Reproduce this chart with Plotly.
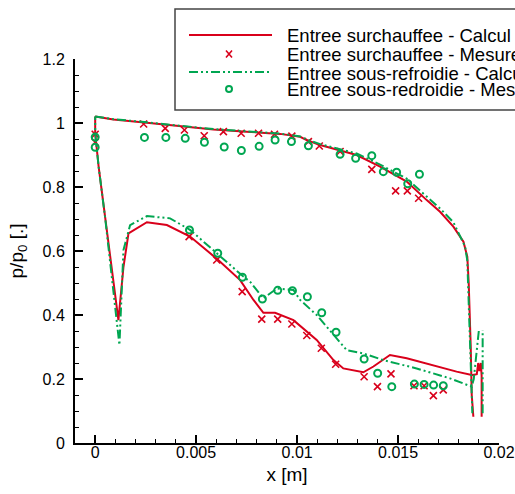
import plotly.graph_objects as go

# ---- data ----
calc_sur_x = [0, 0.0009, 0.00256, 0.0042, 0.00586, 0.0075, 0.00916, 0.01015, 0.0105, 0.01114,
              0.01295, 0.01411, 0.01543, 0.01642, 0.01708, 0.01774, 0.01824, 0.01843, 0.0185,
              0.0186, 0.01865, 0.01873, None,
              0.01914, 0.01914, 0.0191, 0.01903, 0.01897, 0.0189, 0.0187, 0.01865, 0.0179,
              0.01691, 0.01543, 0.0146, 0.01411, 0.01378, 0.01328, 0.01229, 0.0118, 0.01097,
              0.00982, 0.00891, 0.00833, 0.00784, 0.00718, 0.006, 0.0047, 0.00355, 0.00256,
              0.00165, 0.0014, 0.00115, 0.0005, 0.00017, 0, 0]
calc_sur_y = [1.02, 1.011, 1.001, 0.991, 0.980, 0.973, 0.966, 0.957, 0.946, 0.931,
              0.90, 0.864, 0.817, 0.759, 0.7225, 0.676, 0.629, 0.582, 0.50,
              0.30, 0.15, 0.082, None,
              0.082, 0.209, 0.25, 0.225, 0.25, 0.215, 0.2125, 0.2125, 0.223,
              0.239, 0.265, 0.275, 0.254, 0.239, 0.221, 0.233, 0.259, 0.322,
              0.384, 0.407, 0.407, 0.447, 0.509, 0.577, 0.645, 0.681, 0.69,
              0.655, 0.55, 0.384, 0.702, 0.864, 0.968, 1.02]

mes_sur_x = [0, 0, 0.0024, 0.00347, 0.00442, 0.0054, 0.00635, 0.00723, 0.00809, 0.00888,
             0.00974, 0.01056, 0.0111, 0.01213, 0.0137, 0.01488, 0.01546, 0.01602,
             0.00465, 0.00602, 0.00728, 0.00825, 0.00904, 0.00974, 0.01048, 0.0112, 0.01191,
             0.01332, 0.01398, 0.01465, 0.01579, 0.01629, 0.01675, 0.01724]
mes_sur_y = [0.965, 0.94, 0.997, 0.983, 0.978, 0.960, 0.973, 0.968, 0.968, 0.965,
             0.959, 0.942, 0.928, 0.911, 0.855, 0.788, 0.788, 0.765,
             0.645, 0.572, 0.473, 0.387, 0.387, 0.372, 0.336, 0.296, 0.246,
             0.207, 0.176, 0.216, 0.179, 0.179, 0.148, 0.166]

calc_sous_x = [0, 0.0009, 0.00256, 0.0042, 0.00586, 0.0075, 0.00916, 0.01015, 0.0105, 0.01114,
               0.01295, 0.01411, 0.01543, 0.01642, 0.01708, 0.01774, 0.01832, 0.01843, 0.0185,
               0.0186, 0.01868, None,
               0.01919, 0.01919, None,
               0.019, 0.0189, 0.01875, 0.01865, 0.01757, 0.01592, 0.01427, 0.01328, 0.01246,
               0.01097, 0.01015, 0.00982, 0.009, 0.00833, 0.00767, 0.00734, 0.006, 0.0047,
               0.00371, 0.00256, 0.00173, 0.0014, 0.0012, 0.0005, 0.00017, 0, 0]
calc_sous_y = [1.02, 1.012, 1.002, 0.992, 0.981, 0.974, 0.967, 0.958, 0.948, 0.934,
               0.905, 0.87, 0.826, 0.77, 0.733, 0.69, 0.614, 0.57, 0.45,
               0.25, 0.093, None,
               0.093, 0.353, None,
               0.35, 0.28, 0.2, 0.176, 0.202, 0.233, 0.259, 0.28, 0.29,
               0.40, 0.447, 0.478, 0.483, 0.452, 0.504, 0.52, 0.593, 0.666,
               0.702, 0.709, 0.681, 0.603, 0.306, 0.70, 0.864, 0.968, 1.02]

mes_sous_x = [0, 0, 0.00244, 0.0035, 0.00446, 0.00541, 0.00639, 0.00724, 0.00812, 0.00891,
              0.00972, 0.01056, 0.01213, 0.0129, 0.0137, 0.01427, 0.01493, 0.01548, 0.01606,
              0.00467, 0.00607, 0.00729, 0.00828, 0.00904, 0.00977, 0.01051, 0.01122, 0.01193,
              0.01332, 0.01399, 0.01469, 0.01581, 0.01629, 0.01676, 0.01724]
mes_sous_y = [0.956, 0.924, 0.955, 0.955, 0.952, 0.94, 0.925, 0.914, 0.927, 0.947,
              0.942, 0.929, 0.902, 0.89, 0.898, 0.848, 0.846, 0.81, 0.84,
              0.666, 0.593, 0.518, 0.45, 0.477, 0.476, 0.457, 0.407, 0.346,
              0.2625, 0.218, 0.176, 0.184, 0.183, 0.181, 0.179]

names = ["Entree surchauffee - Calcul", "Entree surchauffee - Mesure",
         "Entree sous-refroidie - Calcul", "Entree sous-redroidie - Mesure"]

x_ticks = [0, 0.005, 0.01, 0.015, 0.02]
x_ticktext = ["0", "0.005", "0.01", "0.015", "0.02"]
y_ticks = [0, 0.2, 0.4, 0.6, 0.8, 1.0, 1.2]
y_ticktext = ["0", "0.2", "0.4", "0.6", "0.8", "1", "1.2"]

RED = "#d9001b"
GREEN = "#00a651"
FONT = "Liberation Sans, Arial, sans-serif"
GREEN_DASH = "9px,3px,2px,3px,2px,3px"

fig = go.Figure()
fig.add_trace(go.Scatter(x=calc_sur_x, y=calc_sur_y, mode="lines", name=names[0],
                         line=dict(color=RED, width=2), connectgaps=False, showlegend=False))
fig.add_trace(go.Scatter(x=mes_sur_x, y=mes_sur_y, mode="markers", name=names[1],
                         marker=dict(symbol="x-thin-open", size=7, color=RED,
                                     line=dict(color=RED, width=1.6)), showlegend=False))
fig.add_trace(go.Scatter(x=calc_sous_x, y=calc_sous_y, mode="lines", name=names[2],
                         line=dict(color=GREEN, width=2, dash=GREEN_DASH),
                         connectgaps=False, showlegend=False))
fig.add_trace(go.Scatter(x=mes_sous_x, y=mes_sous_y, mode="markers", name=names[3],
                         marker=dict(symbol="circle-open", size=7, color=GREEN,
                                     line=dict(color=GREEN, width=2)), showlegend=False))

# ---- legend (drawn in paper coordinates) ----
W, H = 424.0, 384.0  # plot area size in px


def px(x):
    return (x - 75) / W


def py(y):
    return (443 - y) / H


fig.add_shape(type="rect", xref="paper", yref="paper", x0=px(175), x1=px(530), y0=py(110), y1=py(9),
              line=dict(color="#444", width=1.5), fillcolor="white", layer="above")
rows_y = [35, 54, 73, 90]
fig.add_shape(type="line", xref="paper", yref="paper", x0=px(189), x1=px(272), y0=py(35), y1=py(35),
              line=dict(color=RED, width=2))
fig.add_shape(type="line", xref="paper", yref="paper", x0=px(189), x1=px(272), y0=py(72), y1=py(72),
              line=dict(color=GREEN, width=2, dash=GREEN_DASH))
cx, cy = 229, 54
fig.add_shape(type="path", xref="paper", yref="paper",
              path=f"M{px(cx-3)},{py(cy-3.5)} L{px(cx+3)},{py(cy+3.5)} M{px(cx-3)},{py(cy+3.5)} L{px(cx+3)},{py(cy-3.5)}",
              line=dict(color=RED, width=1.6))
fig.add_shape(type="circle", xref="paper", yref="paper", x0=px(226), x1=px(232), y0=py(92), y1=py(86),
              line=dict(color=GREEN, width=2))
for name, ry in zip(names, rows_y):
    fig.add_annotation(x=px(285), y=py(ry), xref="paper", yref="paper", text=name,
                       showarrow=False, xanchor="left", yanchor="middle",
                       font=dict(size=18.5, family=FONT, color="black"))

fig.update_layout(
    width=515, height=494,
    margin=dict(l=75, r=16, t=59, b=51, autoexpand=False),
    plot_bgcolor="white", paper_bgcolor="white",
    font=dict(family=FONT, size=16, color="black"),
    showlegend=False,
    xaxis=dict(range=[-0.001, 0.02], tickvals=x_ticks, ticktext=x_ticktext,
               showgrid=False, zeroline=False, showline=True, linecolor="black", linewidth=2,
               ticks="inside", ticklen=8, tickwidth=1.5, tickcolor="black", mirror=False,
               minor=dict(dtick=0.001, tick0=0, ticks="inside", ticklen=4, tickcolor="black", tickwidth=1),
               title=dict(text="x [m]", font=dict(size=19), standoff=7),
               tickfont=dict(size=16), ticklabelstandoff=-6),
    yaxis=dict(range=[0, 1.2], tickvals=y_ticks, ticktext=y_ticktext,
               showgrid=False, zeroline=False, showline=True, linecolor="black", linewidth=2,
               ticks="inside", ticklen=8, tickwidth=1.5, tickcolor="black", mirror=False,
               minor=dict(dtick=0.05, tick0=0, ticks="inside", ticklen=4, tickcolor="black", tickwidth=1),
               title=dict(text="p/p<sub>0</sub> [.]", font=dict(size=19), standoff=14),
               tickfont=dict(size=16), ticklabelstandoff=5),
)

fig.write_html("out.html", config={"displayModeBar": False},
               post_script="document.body.style.margin='0';document.body.style.overflow='hidden';")
